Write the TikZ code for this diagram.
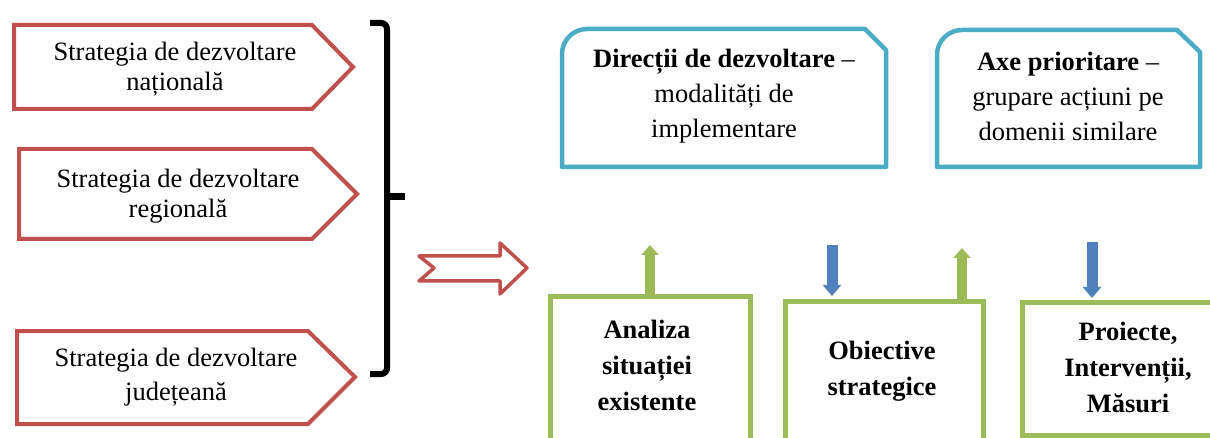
\documentclass[tikz,border=0pt]{standalone}
\usepackage{fontspec}
\setmainfont{Liberation Serif}
\usetikzlibrary{arrows.meta}
\definecolor{cred}{HTML}{C0504D}
\definecolor{cgreen}{HTML}{9BBB59}
\definecolor{cblue}{HTML}{4F81BD}
\definecolor{cteal}{HTML}{4BACC6}
\begin{document}
\begin{tikzpicture}[x=1pt,y=-1pt,
  redshape/.style={draw=cred, line width=4pt, line join=miter},
  tealbox/.style={draw=cteal, line width=4.5pt, line join=round},
  greenbox/.style={draw=cgreen, line width=5pt, inner sep=0pt, anchor=north west},
  ltxt/.style={font=\fontsize{26.5}{30}\selectfont, align=center, inner sep=0pt, anchor=base},
  ttxt/.style={font=\fontsize{26.5}{35}\selectfont, align=center, inner sep=0pt, anchor=base},
  gtxt/.style={font=\fontsize{26.5}{36}\selectfont\bfseries, align=center, inner sep=0pt, anchor=base},
  garrow/.style={draw=cgreen, line width=10pt, -{Triangle[width=17pt,length=10pt]}},
  barrow/.style={draw=cblue, line width=11pt, -{Triangle[width=18pt,length=11pt]}}
]
\useasboundingbox (0,0) rectangle (1210,438);
% left strategy shapes
\draw[redshape] (14,25) -- (312,25) -- (353,67) -- (312,109) -- (14,109) -- cycle;
\node[ltxt] (s1) at (175,91) {Strategia de dezvoltare\\națională};
\draw[redshape] (19,149) -- (312,149) -- (357,194) -- (312,239) -- (19,239) -- cycle;
\node[ltxt] (s2) at (178,218) {Strategia de dezvoltare\\regională};
\draw[redshape] (17,331) -- (308,331) -- (355,377) -- (308,424) -- (17,424) -- cycle;
\node[ltxt, font=\fontsize{26.5}{34}\selectfont] (s3) at (176,400) {Strategia de dezvoltare\\județeană};
% brace
\draw[line width=6pt, rounded corners=6pt] (370,23) -- (387,23) -- (387,374) -- (370,374);
\draw[line width=7pt] (387,197) -- (405,197);
% hollow arrow
\draw[draw=cred, line width=3.5pt, line join=round] (419,256) -- (500,256) -- (500,243) -- (527,268) -- (500,294) -- (500,281) -- (419,281) -- (434,268) -- cycle;
% top boxes
\draw[tealbox] (562,167) -- (562,54) arc[start angle=180,end angle=270,radius=25] -- (865,29) -- (886,50) -- (886,167) -- cycle;
\node[ttxt] (dir) at (724,138) {\textbf{Direcții de dezvoltare} –\\modalități de\\implementare};
\draw[tealbox] (937,167) -- (937,55) arc[start angle=180,end angle=270,radius=25] -- (1177,30) -- (1200,52) -- (1200,167) -- cycle;
\node[ttxt] (axe) at (1068,141) {\textbf{Axe prioritare} –\\grupare acțiuni pe\\domenii similare};
% green boxes
\node[greenbox, minimum width=200pt, minimum height=170pt] (g1) at (547.5,294.5) {};
\node[greenbox, minimum width=198pt, minimum height=170pt] (g2) at (782.5,299.5) {};
\node[greenbox, minimum width=230pt, minimum height=132.5pt] (g3) at (1019.5,300.5) {};
\node[gtxt] (t1) at (647,410) {Analiza\\situației\\existente};
\node[gtxt] (t2) at (882,395) {Obiective\\strategice};
\node[gtxt] (t3) at (1128,412) {Proiecte,\\Intervenții,\\Măsuri};
% small arrows
\coordinate (u1s) at (650,294);
\coordinate (u1e) at (650,245);
\coordinate (u2s) at (962,299);
\coordinate (u2e) at (962,248);
\coordinate (d1s) at (832,245);
\coordinate (d1e) at (832,296);
\coordinate (d2s) at (1092,242);
\coordinate (d2e) at (1092,298);
\draw[garrow] (u1s) -- (u1e);
\draw[garrow] (u2s) -- (u2e);
\draw[barrow] (d1s) -- (d1e);
\draw[barrow] (d2s) -- (d2e);
\end{tikzpicture}
\end{document}
